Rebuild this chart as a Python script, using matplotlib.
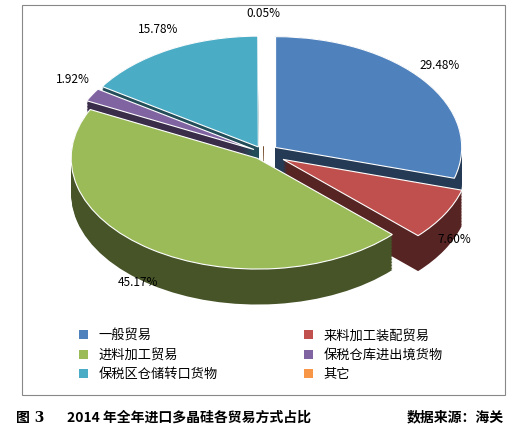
import numpy as np
import matplotlib.pyplot as plt
from matplotlib.patches import Rectangle, Patch
import matplotlib.colors as mc

plt.rcParams['font.family'] = ['Noto Sans CJK SC', 'DejaVu Sans']

labels = ['一般贸易', '来料加工装配贸易', '进料加工贸易', '保税仓库进出境货物', '保税区仓储转口货物', '其它']
values = [29.48, 7.60, 45.17, 1.92, 15.78, 0.05]
colors = ['#4F81BD', '#C0504D', '#9BBB59', '#8064A2', '#4BACC6', '#F79646']
explode = [0.08, 0.12, 0.06, 0.06, 0.06, 0.06]

fig = plt.figure(figsize=(5.17, 4.37), dpi=100)
fig.patches.append(Rectangle((0.043, 0.096), 0.934, 0.893, transform=fig.transFigure,
                             fill=False, edgecolor='#888888', lw=0.8))
ax = fig.add_axes([0.06, 0.27, 0.9, 0.71])

# 侧面：一层层往下叠，颜色变暗
dark = [tuple(np.array(mc.to_rgb(c)) * 0.45) for c in colors]
depth = 0.32
for k in np.linspace(depth, 0, 25):
    ax.pie(values, colors=dark, explode=explode, startangle=90, counterclock=False,
           center=(0, -k), radius=1, wedgeprops=dict(linewidth=0))
wedges, _ = ax.pie(values, colors=colors, explode=explode, startangle=90, counterclock=False,
                   radius=1, wedgeprops=dict(linewidth=0.8, edgecolor='white'))

for w, v in zip(wedges, values):
    ang = np.deg2rad((w.theta1 + w.theta2) / 2)
    r = 1.18
    dy = -0.2 if np.sin(ang) < 0 else 0.08
    ax.text(r * np.cos(ang), r * np.sin(ang) + dy, f'{v:.2f}%', ha='center', va='center', fontsize=8.5)

ax.set_aspect('auto')
ax.set_xlim(-1.25, 1.25)
ax.set_ylim(-1.5, 1.3)
ax.axis('off')

order = [0, 2, 4, 1, 3, 5]
handles = [Patch(facecolor=colors[i]) for i in order]
fig.legend(handles, [labels[i] for i in order], ncol=2, loc='lower left', bbox_to_anchor=(0.13, 0.1),
           frameon=False, fontsize=9.5, handlelength=0.7, handleheight=0.7,
           columnspacing=6.5, labelspacing=0.5)

fig.text(0.03, 0.035, '图 3', fontsize=10, fontweight='bold', family=['DejaVu Serif', 'Noto Sans CJK SC'])
fig.text(0.13, 0.035, '2014 年全年进口多晶硅各贸易方式占比', fontsize=10, fontweight='bold')
fig.text(0.975, 0.035, '数据来源：海关', fontsize=10, fontweight='bold', ha='right')

fig.savefig('out.png', dpi=100)
